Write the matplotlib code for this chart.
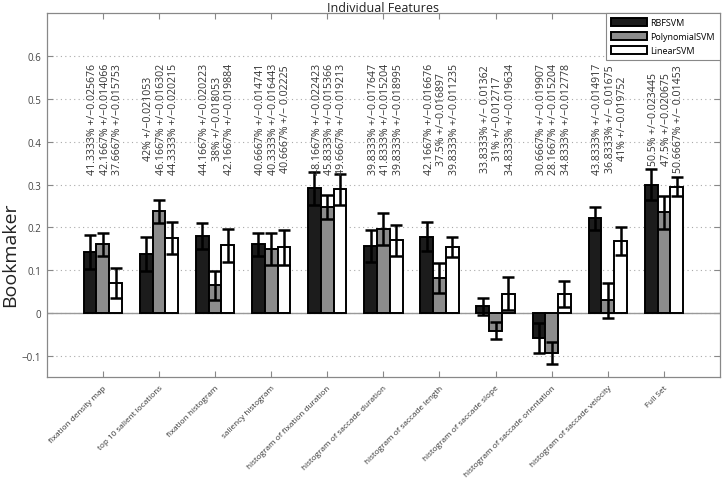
import numpy as np
import matplotlib
matplotlib.use('Agg')
import matplotlib.pyplot as plt
from matplotlib.ticker import FuncFormatter

plt.rcParams['font.family'] = ['Open Sans', 'DejaVu Sans']

features = ['fixation density map', 'top 10 salient locations', 'fixation histogram',
            'saliency histogram', 'histogram of fixation duration',
            'histogram of saccade duration', 'histogram of saccade length',
            'histogram of saccade slope', 'histogram of saccade orientation',
            'histogram of saccade velocity', 'Full Set']
models = ['RBFSVM', 'PolynomialSVM', 'LinearSVM']

# bookmaker scores (bar heights) and their error bars
rbf = [0.142, 0.138, 0.179, 0.160, 0.291, 0.1565, 0.178, 0.0156, -0.0587, 0.221, 0.300]
rbf_err = [0.039, 0.039, 0.030, 0.027, 0.039, 0.037, 0.034, 0.0196, 0.035, 0.027, 0.037]
poly = [0.160, 0.237, 0.064, 0.150, 0.248, 0.196, 0.082, -0.042, -0.093, 0.029, 0.235]
poly_err = [0.027, 0.027, 0.035, 0.037, 0.028, 0.0375, 0.035, 0.020, 0.026, 0.040, 0.039]
lin = [0.070, 0.175, 0.158, 0.153, 0.289, 0.170, 0.154, 0.045, 0.044, 0.168, 0.295]
lin_err = [0.035, 0.037, 0.038, 0.041, 0.036, 0.036, 0.024, 0.038, 0.030, 0.033, 0.022]

# accuracy (%) and std printed above each group, one per model
rbf_acc = [41.3333, 42, 44.1667, 40.6667, 48.1667, 39.8333, 42.1667, 33.8333, 30.6667, 43.8333, 50.5]
rbf_std = [0.025676, 0.021053, 0.020223, 0.014741, 0.022423, 0.017647, 0.016676, 0.01362, 0.019907, 0.014917, 0.023445]
poly_acc = [42.1667, 46.1667, 38, 40.3333, 45.8333, 41.8333, 37.5, 31, 28.1667, 36.8333, 47.5]
poly_std = [0.014066, 0.016302, 0.018053, 0.016443, 0.015366, 0.015204, 0.016897, 0.012717, 0.015204, 0.01675, 0.020675]
lin_acc = [37.6667, 44.3333, 42.1667, 40.6667, 49.6667, 39.8333, 39.8333, 34.8333, 34.8333, 41, 50.6667]
lin_std = [0.015753, 0.020215, 0.019884, 0.02225, 0.019213, 0.018995, 0.011235, 0.019634, 0.012778, 0.019752, 0.01453]


def label_line(acc, std):
    a = ('%.4f' % acc).rstrip('0').rstrip('.')
    s = ('%g' % std).rjust(8)
    return a + '% +/\u2212' + s


fig = plt.figure(figsize=(7.23, 4.81), dpi=100)
ax = fig.add_axes([0.0646, 0.2141, 0.9313, 0.7559])

x = np.arange(1, len(features) + 1)
w = 0.228
ax.axhline(0, color='#999999', lw=1, zorder=1)

series = [(rbf, rbf_err, '#1c1c1c'), (poly, poly_err, '#8c8c8c'), (lin, lin_err, 'white')]
for i, (vals, errs, col) in enumerate(series):
    xs = x + (i - 1) * w
    ax.bar(xs, vals, w, color=col, edgecolor='black', linewidth=1.4, label=models[i], zorder=2)
    ax.errorbar(xs, vals, yerr=errs, fmt='none', ecolor='black', elinewidth=1.8,
                capsize=4.4, capthick=1.8, zorder=3)

for j in range(len(features)):
    txt = '\n'.join([label_line(rbf_acc[j], rbf_std[j]),
                     label_line(poly_acc[j], poly_std[j]),
                     label_line(lin_acc[j], lin_std[j])])
    ax.text(x[j] + 0.04, 0.455, txt, rotation=90, ha='center', va='center',
            multialignment='center', fontsize=7.6, color='#333333', linespacing=1.18)

ax.set_xlim(0, 12)
ax.set_ylim(-0.15, 0.7)
ax.set_xticks(x)
ax.set_xticklabels(features, rotation=45, ha='right', va='top', rotation_mode='anchor',
                   fontsize=5.9, color='#333333')
ax.set_yticks([-0.1, 0, 0.1, 0.2, 0.3, 0.4, 0.5, 0.6])
ax.yaxis.set_major_formatter(FuncFormatter(lambda v, p: ('%g' % round(v, 2)).replace('-', '\u2212')))
ax.tick_params(axis='y', labelsize=7, labelcolor='#444444')
ax.tick_params(direction='in', top=True, right=True, length=4, color='#888888', pad=4)
ax.tick_params(axis='x', pad=5)
ax.yaxis.grid(True, linestyle=(0, (1, 3)), color='#aaaaaa', lw=0.8)
ax.set_axisbelow(True)
for sp in ax.spines.values():
    sp.set_color('#888888')
    sp.set_linewidth(0.9)

ax.set_ylabel('Bookmaker', fontsize=14, color='#222222')
ax.yaxis.label.set_verticalalignment('center')
ax.yaxis.set_label_coords(-0.054, 0.34)
ax.set_title('Individual Features', fontsize=9, color='#222222', pad=1.5)

leg = ax.legend(loc='upper right', bbox_to_anchor=(1.0, 1.0), borderaxespad=0,
                fontsize=6.5, handlelength=4.0, handleheight=0.95, fancybox=False,
                framealpha=1, edgecolor='#888888', borderpad=0.55, labelspacing=0.55,
                handletextpad=0.4)
leg.get_frame().set_linewidth(0.8)

fig.savefig('out.png', dpi=100)
